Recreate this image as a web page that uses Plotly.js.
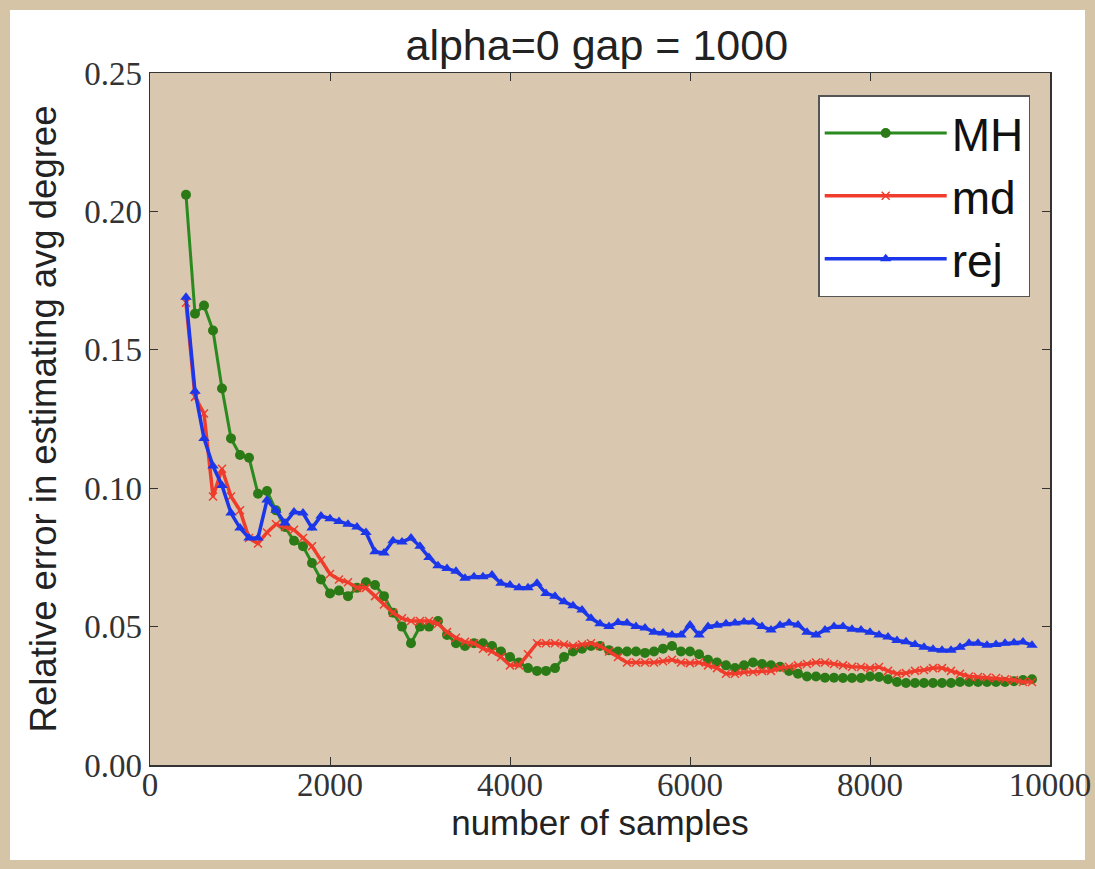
<!DOCTYPE html>
<html>
<head>
<meta charset="utf-8">
<script src="https://cdn.plot.ly/plotly-3.0.1.min.js"></script>
<style>
html,body{margin:0;padding:0;width:1095px;height:869px;background:#d6c4a6;overflow:hidden;}
#frame{position:absolute;left:10px;top:10px;width:1075px;height:850px;background:#fff;}
#chart{position:absolute;left:0;top:0;width:1095px;height:869px;}
</style>
</head>
<body>
<div id="frame"></div>
<div id="chart"></div>
<script>
const samples = [400,500,600,700,800,900,1000,1100,1200,1300,1400,1500,1600,1700,1800,1900,2000,2100,2200,2300,2400,2500,2600,2700,2800,2900,3000,3100,3200,3300,3400,3500,3600,3700,3800,3900,4000,4100,4200,4300,4400,4500,4600,4700,4800,4900,5000,5100,5200,5300,5400,5500,5600,5700,5800,5900,6000,6100,6200,6300,6400,6500,6600,6700,6800,6900,7000,7100,7200,7300,7400,7500,7600,7700,7800,7900,8000,8100,8200,8300,8400,8500,8600,8700,8800,8900,9000,9100,9200,9300,9400,9500,9600,9700,9800];

const mhErr = [0.206,0.163,0.166,0.157,0.136,0.118,0.112,0.111,0.098,0.099,0.092,0.086,0.081,0.079,0.073,0.067,0.062,0.063,0.061,0.064,0.066,0.065,0.061,0.055,0.050,0.044,0.050,0.050,0.052,0.047,0.044,0.043,0.044,0.044,0.043,0.041,0.039,0.037,0.035,0.034,0.034,0.035,0.039,0.041,0.042,0.043,0.043,0.0415,0.041,0.041,0.041,0.0405,0.041,0.042,0.043,0.041,0.041,0.040,0.038,0.037,0.036,0.035,0.036,0.037,0.0365,0.036,0.0355,0.034,0.033,0.032,0.032,0.0315,0.0315,0.0314,0.0314,0.0314,0.032,0.0318,0.031,0.030,0.0296,0.0296,0.0296,0.0296,0.0296,0.0296,0.030,0.030,0.030,0.030,0.030,0.030,0.0303,0.0307,0.031];

const mdErr = [0.167,0.133,0.127,0.097,0.107,0.097,0.092,0.082,0.080,0.084,0.087,0.086,0.085,0.082,0.079,0.074,0.069,0.067,0.066,0.064,0.064,0.061,0.058,0.055,0.053,0.052,0.052,0.052,0.051,0.048,0.046,0.0445,0.044,0.042,0.041,0.039,0.036,0.036,0.040,0.044,0.044,0.044,0.0435,0.043,0.0435,0.044,0.043,0.041,0.039,0.037,0.037,0.037,0.037,0.0375,0.038,0.037,0.0368,0.037,0.036,0.035,0.033,0.033,0.0335,0.0336,0.034,0.034,0.035,0.0355,0.036,0.0365,0.037,0.037,0.0365,0.036,0.0355,0.0354,0.035,0.0354,0.034,0.033,0.0332,0.034,0.0343,0.035,0.035,0.034,0.033,0.032,0.0318,0.0316,0.0314,0.031,0.0307,0.030,0.030];

const rejErr = [0.169,0.135,0.118,0.108,0.101,0.091,0.0856,0.082,0.082,0.0957,0.092,0.0874,0.0914,0.091,0.0856,0.090,0.089,0.088,0.087,0.086,0.084,0.077,0.0766,0.081,0.0806,0.082,0.079,0.075,0.072,0.071,0.070,0.0675,0.068,0.068,0.0686,0.0657,0.065,0.064,0.064,0.0657,0.062,0.061,0.059,0.0575,0.056,0.053,0.051,0.050,0.0515,0.0513,0.050,0.0495,0.048,0.0477,0.047,0.047,0.0506,0.047,0.050,0.0505,0.051,0.0513,0.0517,0.0517,0.050,0.0488,0.0505,0.0513,0.0506,0.048,0.047,0.0488,0.050,0.050,0.049,0.0488,0.048,0.047,0.0462,0.045,0.0445,0.0435,0.0425,0.0418,0.0415,0.0415,0.0425,0.044,0.044,0.0433,0.0435,0.044,0.0442,0.0444,0.0433];

const seriesNames = ['MH','md','rej'];
const xTickVals = [0,2000,4000,6000,8000,10000];
const yTickVals = [0,0.05,0.10,0.15,0.20,0.25];
const yTickText = ['0.00','0.05','0.10','0.15','0.20','0.25'];

const traces = [
  {x: samples, y: mhErr, name: seriesNames[0], legendgroup: 'a', mode: 'lines+markers',
   line: {color: '#2b8a1f', width: 3},
   marker: {symbol: 'circle', size: 10, color: '#2b7a15'}},
  {x: samples, y: mdErr, name: seriesNames[1], legendgroup: 'b', mode: 'lines+markers',
   line: {color: '#f03c2c', width: 3.5},
   marker: {symbol: 'x-thin', size: 8, color: '#f03c2c', line: {color: '#f03c2c', width: 1.5}}},
  {x: samples, y: rejErr, name: seriesNames[2], legendgroup: 'c', mode: 'lines+markers',
   line: {color: '#1c36ea', width: 3.5},
   marker: {symbol: 'triangle-up', size: 10, color: '#1c36ea'}}
];

const axisCommon = {
  showline: true, linecolor: '#333', linewidth: 1.5, mirror: 'ticks',
  ticks: 'inside', ticklen: 8, tickcolor: '#333', tickwidth: 1,
  showgrid: false, zeroline: false,
  tickfont: {family: 'Liberation Serif, DejaVu Serif, serif', size: 33, color: '#333'}
};

const layout = {
  width: 1095, height: 869,
  paper_bgcolor: 'rgba(0,0,0,0)', plot_bgcolor: '#d9c8af',
  margin: {l: 150, r: 45, t: 73, b: 104},
  title: {text: 'alpha=0 gap = 1000', x: 0.545, xanchor: 'center', y: 0.948, yanchor: 'middle',
          font: {family: 'Liberation Sans, Arial, sans-serif', size: 43, color: '#222'}},
  xaxis: Object.assign({}, axisCommon, {
    range: [0, 10000], tickvals: xTickVals, ticktext: xTickVals.map(String),
    ticklabelstandoff: -10,
    title: {text: 'number of samples', standoff: 0,
            font: {family: 'Liberation Sans, Arial, sans-serif', size: 35, color: '#222'}}
  }),
  yaxis: Object.assign({}, axisCommon, {
    range: [0, 0.25], tickvals: yTickVals, ticktext: yTickText,
    title: {text: 'Relative error in estimating avg degree', standoff: 16,
            font: {family: 'Liberation Sans, Arial, sans-serif', size: 36.5, color: '#222'}}
  }),
  legend: {x: 0.978, y: 0.968, xanchor: 'right', yanchor: 'top',
           bgcolor: '#ffffff', bordercolor: '#555', borderwidth: 1.5,
           font: {family: 'Liberation Sans, Arial, sans-serif', size: 46, color: '#111'},
           itemwidth: 122, tracegroupgap: 0},
  showlegend: true
};

Plotly.newPlot('chart', traces, layout, {displayModeBar: false, staticPlot: true});
</script>
</body>
</html>
